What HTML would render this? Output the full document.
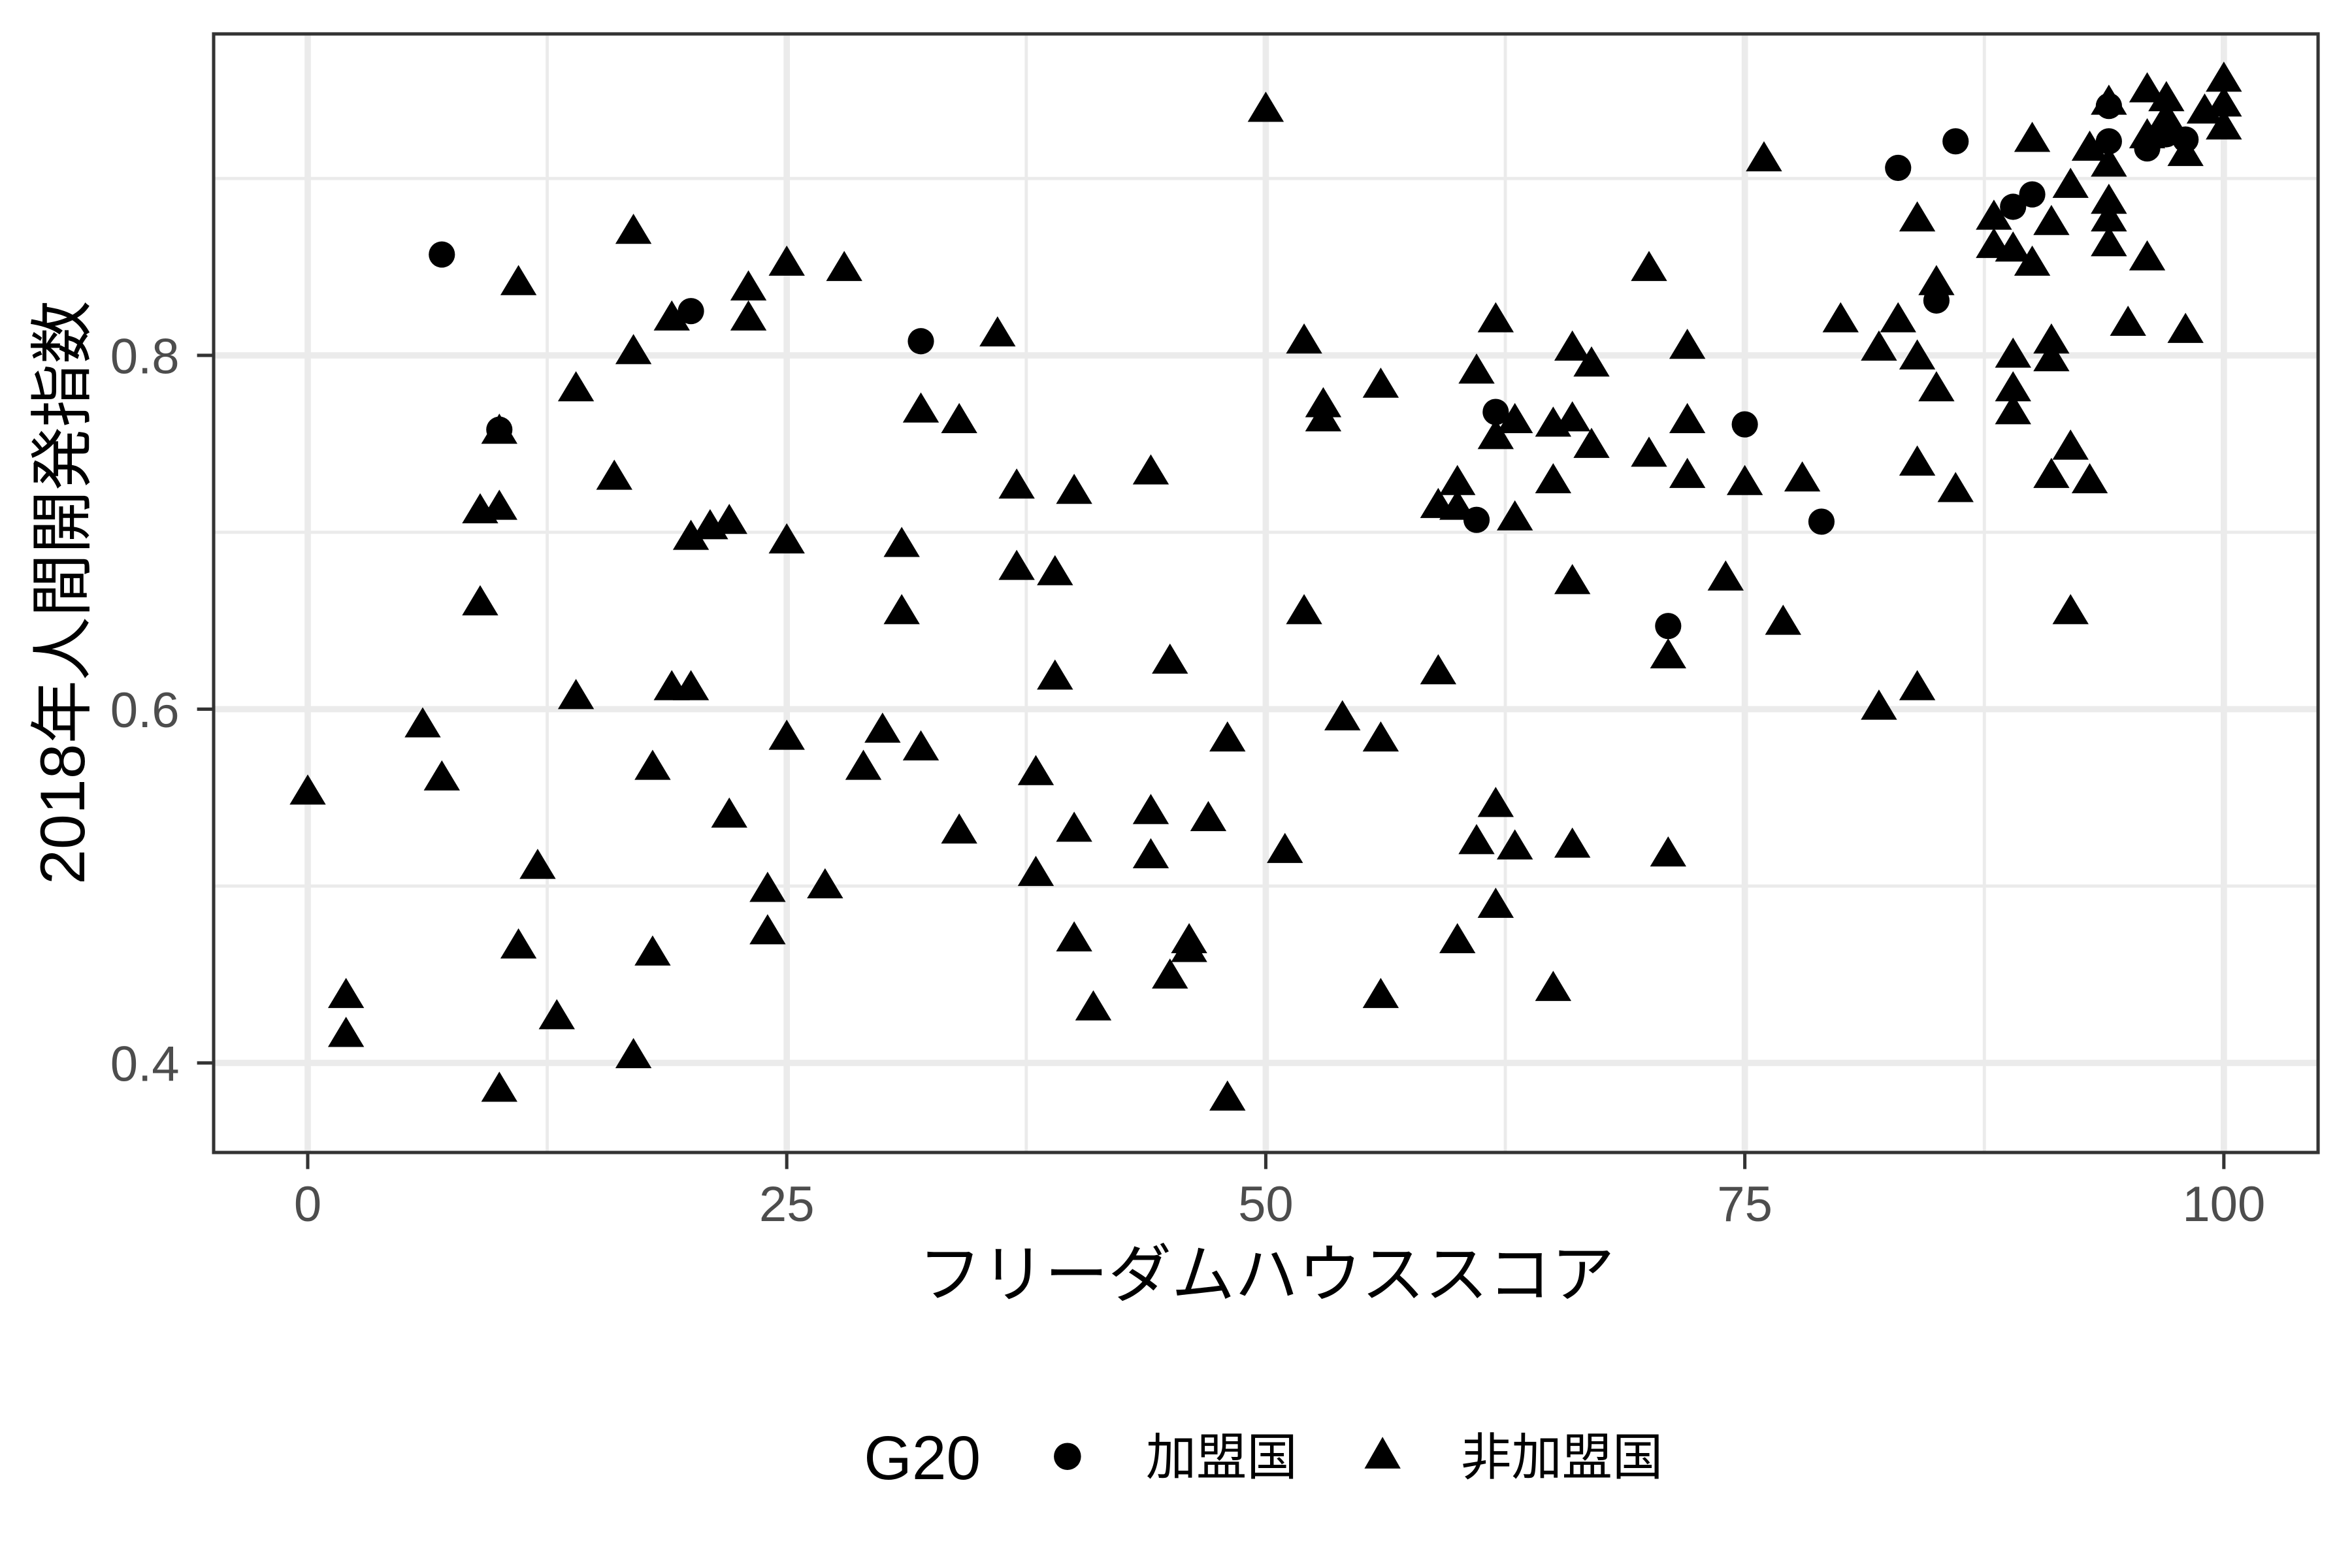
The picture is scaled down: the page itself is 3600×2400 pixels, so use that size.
<!DOCTYPE html>
<html><head><meta charset="utf-8"><style>
html,body{margin:0;padding:0;background:#fff}
svg{display:block}
text{font-family:"Liberation Sans","Noto Sans CJK JP",sans-serif}
</style></head><body>
<svg id="chart" width="3600" height="2400" viewBox="0 0 1560 1040" xmlns="http://www.w3.org/2000/svg">
<rect width="1560" height="1040" fill="#fff"/>
<g id="grid"></g>
<g id="marks"></g>
<rect x="141.7" y="22.5" width="1395.8" height="741.9" fill="none" stroke="#333" stroke-width="2.2"/>
<g id="axes"></g>
<text x="840" y="860" font-size="42" text-anchor="middle" fill="#000">フリーダムハウススコア</text>
<text transform="translate(56,393) rotate(-90)" font-size="42" text-anchor="middle" fill="#000">2018年人間開発指数</text>
<g>
<text x="573" y="981" font-size="41" fill="#000">G20</text>
<circle cx="708" cy="966" r="9" fill="#000"/>
<text x="760" y="978" font-size="33.5" fill="#000">加盟国</text>
<polygon points="917,953 929,974 905,974" fill="#000"/>
<text x="969" y="978" font-size="33.5" fill="#000">非加盟国</text>
</g>
</svg>
<script>
const xTicks = [0, 25, 50, 75, 100];
const yTicks = [0.4, 0.6, 0.8];
const yMinor = [0.5, 0.7, 0.9];
const xMinor = [12.5, 37.5, 62.5, 87.5];
const memberX = [7,20,10,32,62,61,75,79,71,83,86,85,89,90,94,94,96,97,98];
const memberY = [0.857,0.825,0.758,0.808,0.768,0.707,0.761,0.706,0.647,0.906,0.921,0.831,0.884,0.891,0.921,0.941,0.917,0.925,0.922];
const nonX = [0,2,2,6,7,9,9,10,10,10,11,11,12,13,14,14,16,17,17,17,18,18,19,19,20,20,21,22,22,23,23,24,24,25,25,25,27,28,29,30,31,31,32,32,34,34,36,37,37,38,38,39,39,40,40,40,41,44,44,44,45,45,46,46,47,48,48,50,51,52,52,53,53,54,56,56,56,59,59,60,60,60,61,61,62,62,62,62,63,63,63,65,65,65,66,66,66,66,67,67,70,70,71,71,72,72,72,74,75,76,77,78,80,82,82,83,84,84,84,84,85,85,86,88,88,89,89,89,89,90,90,91,91,91,91,92,92,92,93,93,94,94,94,94,94,95,96,96,96,97,97,98,98,99,100,100,100];
const nonY = [0.552,0.437,0.415,0.590,0.560,0.659,0.711,0.713,0.756,0.384,0.840,0.465,0.510,0.425,0.780,0.606,0.730,0.869,0.801,0.403,0.566,0.461,0.820,0.611,0.611,0.696,0.702,0.705,0.539,0.837,0.820,0.497,0.473,0.851,0.694,0.583,0.499,0.848,0.566,0.587,0.692,0.654,0.768,0.577,0.762,0.530,0.811,0.725,0.679,0.563,0.506,0.676,0.617,0.722,0.531,0.469,0.430,0.733,0.541,0.516,0.626,0.448,0.468,0.463,0.537,0.582,0.379,0.938,0.519,0.807,0.654,0.771,0.763,0.594,0.782,0.582,0.437,0.714,0.620,0.727,0.713,0.468,0.790,0.524,0.819,0.753,0.545,0.488,0.762,0.707,0.521,0.760,0.728,0.441,0.803,0.763,0.671,0.522,0.794,0.748,0.848,0.743,0.629,0.517,0.804,0.762,0.731,0.673,0.727,0.910,0.648,0.729,0.819,0.803,0.600,0.819,0.876,0.798,0.738,0.611,0.840,0.780,0.723,0.877,0.861,0.859,0.799,0.780,0.767,0.921,0.851,0.874,0.807,0.797,0.731,0.895,0.747,0.654,0.916,0.728,0.942,0.907,0.886,0.876,0.862,0.817,0.949,0.854,0.923,0.944,0.933,0.913,0.813,0.937,0.955,0.941,0.928];

const NS = 'http://www.w3.org/2000/svg';
const L = 141.7, R = 1537.5, T = 22.5, B = 764.4;
function xs(v){ return 204.1 + v * (1475.0 - 204.1) / 100; }
function ys(v){ return 705.0 - (v - 0.4) * (705.0 - 235.7) / 0.4; }
function mk(tag, attrs, parent){
  const e = document.createElementNS(NS, tag);
  for (const k in attrs) e.setAttribute(k, attrs[k]);
  parent.appendChild(e); return e;
}
const grid = document.getElementById('grid');
const axes = document.getElementById('axes');
const marks = document.getElementById('marks');
xMinor.forEach(v => {
  const l = mk('line', {x1: xs(v), x2: xs(v), y1: T, y2: B, stroke: '#ebebeb', 'stroke-width': 2.1}, grid);
  
  
});
yMinor.forEach(v => {
  const l = mk('line', {x1: L, x2: R, y1: ys(v), y2: ys(v), stroke: '#ebebeb', 'stroke-width': 2.1}, grid);
  
  
});
xTicks.forEach(v => {
  const l = mk('line', {x1: xs(v), x2: xs(v), y1: T, y2: B, stroke: '#ebebeb', 'stroke-width': 4.2}, grid);
  
  
  const t = mk('line', {x1: xs(v), x2: xs(v), y1: B, y2: B + 11, stroke: '#333', 'stroke-width': 2.2}, axes);
  
  
  const tx = mk('text', {x: xs(v), y: 810, 'font-size': 33, 'text-anchor': 'middle', fill: '#4d4d4d'}, axes);
  tx.textContent = v;
  
  
});
yTicks.forEach(v => {
  const l = mk('line', {x1: L, x2: R, y1: ys(v), y2: ys(v), stroke: '#ebebeb', 'stroke-width': 4.2}, grid);
  
  
  const t = mk('line', {x1: L - 11, x2: L, y1: ys(v), y2: ys(v), stroke: '#333', 'stroke-width': 2.2}, axes);
  
  
  const tx = mk('text', {x: 119, y: ys(v) + 12, 'font-size': 33, 'text-anchor': 'end', fill: '#4d4d4d'}, axes);
  tx.textContent = v.toFixed(1);
  
  
});
nonX.forEach((x, i) => {
  const cx = xs(x), cy = ys(nonY[i]);
  const p = mk('polygon', {points: `${cx},${cy-13} ${cx+12},${cy+7} ${cx-12},${cy+7}`, fill: '#000'}, marks);
  
  
});
memberX.forEach((x, i) => {
  const c = mk('circle', {cx: xs(x), cy: ys(memberY[i]), r: 8.7, fill: '#000'}, marks);
  
  
});
</script>
</body></html>
